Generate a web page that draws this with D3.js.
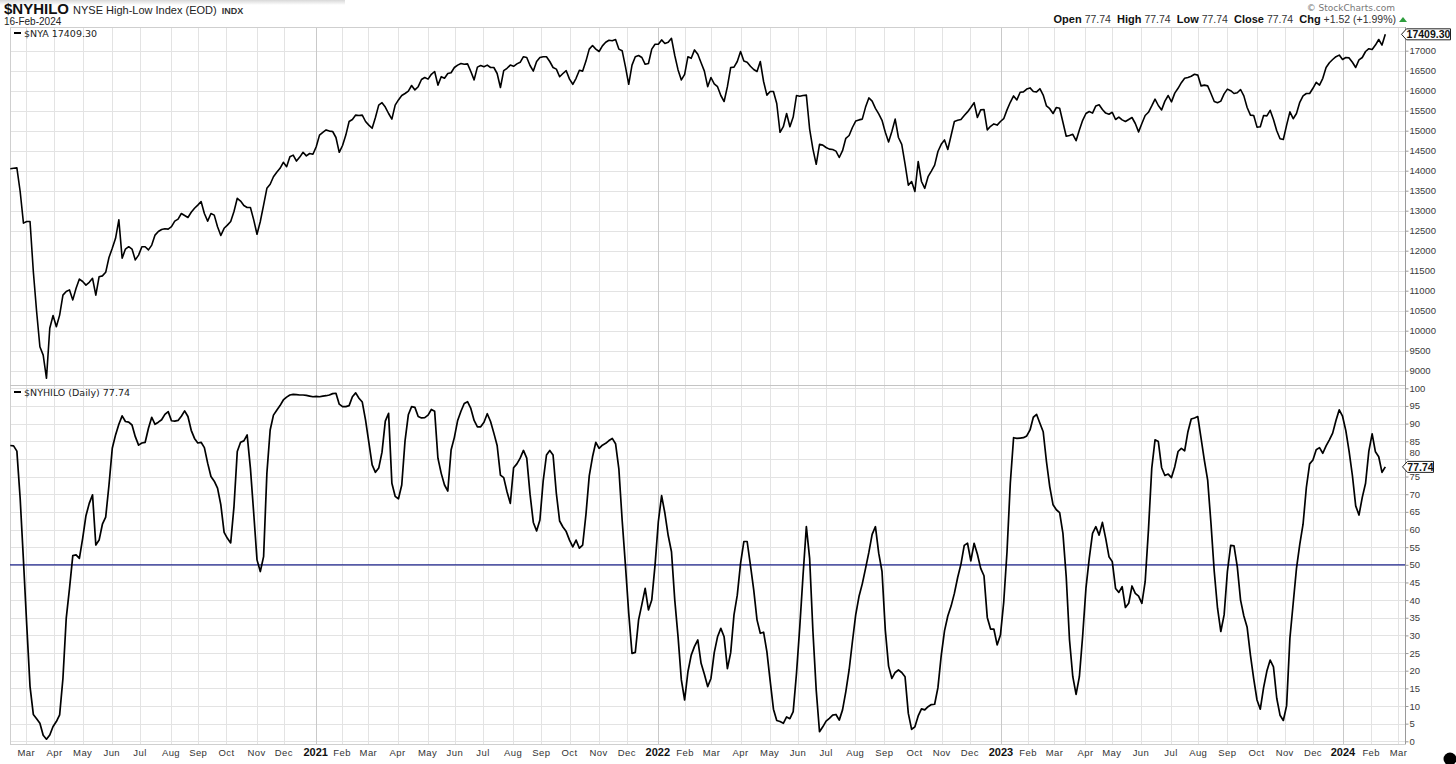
<!DOCTYPE html>
<html><head><meta charset="utf-8">
<script src="https://cdn.jsdelivr.net/npm/d3@7"></script>
<style>body{margin:0;background:#fff}svg{display:block}</style>
</head><body><svg id="c" width="1456" height="764"></svg>
<script>
// ---------------- data ----------------
const startDate = "2020-02-14";   // first sample
const endDate = "2024-02-16";     // last sample
const sampleStepHours = 84;       // samples every 3.5 days

const nyaValues = [
14050,14060,14070,13480,12690,12730,12730,11480,10480,9600,
9390,8810,10060,10380,10100,10390,10890,10980,11020,10770,
11060,11290,11230,11140,11210,11310,10890,11350,11370,11460,
11830,12060,12310,12770,11810,12040,12100,12040,11770,11890,
12100,12100,12020,12140,12390,12480,12530,12550,12540,12600,
12740,12790,12930,12880,12830,12960,13060,13140,13230,12930,
12740,12930,12890,12600,12380,12560,12640,12730,12980,13310,
13240,13130,13080,13080,12770,12410,12730,13140,13560,13660,
13850,13960,14060,14210,14100,14350,14390,14240,14340,14460,
14370,14430,14410,14600,14890,14960,15020,14990,14980,14830,
14460,14630,14890,15230,15280,15390,15380,15390,15230,15140,
15060,15330,15640,15700,15590,15430,15290,15640,15770,15880,
15930,15990,16130,16020,16100,16280,16330,16290,16410,16480,
16140,16350,16310,16430,16450,16580,16640,16680,16660,16670,
16480,16270,16590,16630,16600,16640,16580,16580,16430,16080,
16500,16560,16640,16610,16670,16710,16850,16830,16630,16490,
16730,16830,16850,16850,16730,16580,16540,16350,16430,16500,
16290,16160,16310,16510,16490,16740,17040,17130,17040,16980,
17120,17210,17260,17250,17280,17040,17000,16600,16160,16640,
16850,16880,16830,16660,16680,17040,17160,17160,17270,17180,
17210,17310,16880,16520,16270,16410,16850,16810,17020,16910,
16700,
16490,16100,16330,16170,16100,15880,15730,16100,16580,
16590,16730,16980,16740,16710,16610,16530,16480,16730,16230,
15890,15980,15980,15680,14960,15100,15430,15100,15340,15880,
15860,15880,15890,15040,14540,14160,14660,14640,14580,14540,
14530,14490,14330,14500,14810,14880,15080,15240,15270,15290,
15590,15820,15740,15560,15420,15260,14960,14720,14980,15290,
14830,14660,14170,13640,13730,13480,14230,13730,13560,13850,
13990,14140,14480,14660,14770,14530,14880,15230,15260,15280,
15380,15470,15580,15700,15330,15520,15530,15020,15110,15170,
15140,15230,15300,15520,15710,15870,15770,15960,15970,16040,
16070,15980,15970,16050,15890,15620,15550,15430,15580,15560,
15210,14860,14880,14910,14750,15020,15260,15430,15480,15440,
15620,15650,15530,15440,15410,15460,15280,15340,15270,15230,
15280,15330,15180,14970,15180,15380,15460,15620,15790,15630,
15520,15740,15880,15720,15940,16060,16200,16310,16330,16360,
16410,16390,16120,16140,16120,15930,15730,15700,15740,15920,
16040,16000,15930,15950,16030,15870,15580,15390,15380,15090,
15100,15380,15370,15510,15280,15000,14800,14780,15140,15470,
15300,15430,15710,15870,15930,15930,16060,16210,16140,16310,
16580,16700,16780,16850,16890,16780,16830,16820,16710,16580,
16770,16830,16980,17050,17030,17140,17280,17140,17409.30
];

const hiloValues = [
83.8,83.7,82.2,68.8,51.2,32.9,15.5,7.6,6.4,5.1,
1.7,0.6,1.8,4.2,5.6,7.5,17.8,34.8,43.3,52.6,
52.8,51.8,57.5,63.9,67.4,69.8,55.6,57.0,61.5,63.5,
72.6,83.0,86.8,89.8,92.2,90.6,90.4,89.6,86.3,83.9,
84.5,84.7,88.7,91.8,89.8,90.4,91.1,92.6,93.4,90.8,
90.7,90.9,92.1,93.6,92.0,88.1,85.8,84.5,84.7,83.2,
78.8,75.0,73.7,71.7,67.0,59.2,57.5,56.2,66.5,82.1,
84.7,85.1,86.8,77.3,64.6,51.4,48.1,52.3,75.9,88.2,
92.4,93.8,95.1,96.7,97.5,98.1,98.3,98.2,98.1,98.1,
98.0,97.8,97.6,97.7,97.6,97.8,97.9,98.1,98.5,98.6,
95.5,94.8,94.8,95.1,97.6,98.7,97.2,96.1,91.0,84.7,
78.3,76.2,77.4,81.9,90.7,92.9,73.1,69.4,68.7,72.6,
85.1,92.5,94.8,94.6,92.0,91.6,91.7,92.4,94.0,93.5,
80.2,75.9,72.6,70.9,82.5,86.1,90.9,93.5,95.7,96.2,
94.3,90.9,89.1,89.1,90.4,92.8,90.6,87.3,83.8,75.4,
74.7,70.7,67.4,77.5,78.6,80.2,82.4,80.2,70.0,62.0,
59.6,62.7,73.8,81.1,82.4,81.1,70.2,62.4,60.7,59.4,
57.0,55.1,57.0,54.7,55.6,64.3,75.2,80.6,84.7,83.0,
83.9,84.4,85.2,85.8,84.3,77.2,62.7,49.9,36.3,24.9,
25.2,34.4,38.8,43.3,37.2,40.0,49.9,62.2,69.6,64.6,
58.3,53.7,40.0,29.6,17.4,11.7,19.7,24.4,26.9,28.7,
22.1,
19.0,15.5,17.8,25.1,29.6,32.0,29.6,20.6,25.1,
35.8,41.4,50.4,56.6,56.6,49.9,42.9,34.4,30.6,30.9,
25.4,17.1,9.1,5.9,5.6,5.1,6.9,6.4,8.4,19.2,
32.4,47.1,60.8,51.8,31.1,14.5,2.7,4.1,5.7,6.5,
7.4,7.6,6.0,8.9,14.1,20.2,28.2,35.8,41.0,44.6,
49.0,53.5,58.6,60.8,53.3,48.1,31.5,21.3,17.8,19.5,
20.2,19.5,18.3,7.9,3.4,4.1,7.2,9.2,8.9,9.8,
10.4,10.5,15.2,24.3,31.3,35.5,38.3,41.9,46.4,50.2,
55.5,56.1,51.1,56.1,53.0,49.0,46.9,35.1,31.8,31.8,
27.3,30.1,39.4,53.7,73.1,86.0,85.8,85.9,86.0,86.5,
88.2,91.8,92.6,90.1,87.7,79.2,72.1,67.0,65.6,64.8,
58.9,46.6,28.7,18.3,13.3,18.3,29.9,43.4,51.8,58.9,
60.8,58.4,62.0,57.5,52.3,50.9,43.3,42.2,43.8,37.9,
39.1,44.0,41.9,41.1,39.1,45.2,59.9,77.3,85.4,84.9,
77.5,75.3,75.7,74.7,77.8,82.1,83.0,82.3,87.7,91.3,
91.6,92.0,85.8,79.6,74.0,61.8,48.1,37.7,31.1,35.8,
48.1,55.5,55.4,49.5,40.0,35.5,32.3,24.4,17.7,11.7,
9.1,15.2,19.9,23.0,21.1,12.2,7.4,5.9,10.1,29.2,
39.1,49.0,55.8,61.5,71.9,78.6,79.7,82.6,83.2,81.6,
83.7,85.4,87.3,90.9,93.9,92.1,88.0,82.1,75.3,66.7,
64.1,69.1,73.1,82.2,87.1,82.0,80.6,76.2,77.74
];

const nyaTickValues = [9000,9500,10000,10500,11000,11500,12000,12500,13000,13500,14000,14500,15000,15500,16000,16500,17000];
const hiloTickValues = [0,5,10,15,20,25,30,35,40,45,50,55,60,65,70,75,80,85,90,95,100];
const hiloReference = 50;
const axisMonthsStart = "2020-03-01";
const axisMonthsEnd = "2024-03-02";

const headerSymbol = "$NYHILO";
const headerName = "NYSE High-Low Index (EOD)";
const headerType = "INDX";
const headerDate = "16-Feb-2024";
const quote = [["Open","77.74"],["High","77.74"],["Low","77.74"],["Close","77.74"],["Chg","+1.52 (+1.99%)"]];
const nyaLegend = "$NYA 17409.30";
const hiloLegend = "$NYHILO (Daily) 77.74";

// ---------------- build ----------------
const parse = d3.timeParse("%Y-%m-%d");
const t0 = parse(startDate), t1 = parse(endDate);
const nyaData = nyaValues.map((v,i)=>({d: d3.timeHour.offset(t0, i*sampleStepHours), v}));
nyaData[nyaData.length-1].d = t1;
const hiloData = hiloValues.map((v,i)=>({d: d3.timeHour.offset(t0, i*sampleStepHours), v}));
hiloData[hiloData.length-1].d = t1;

const svg = d3.select("#c");
const plotL = 10, plotR = 1405;
const top1 = 27, bot1 = 385, top2 = 385, bot2 = 744;

const x = d3.scaleTime().domain([t0, t1]).range([10.3, 1385.3]);
const y1 = d3.scaleLinear().domain([9000, 17000]).range([370.7, 50.7]);
const y2 = d3.scaleLinear().domain([0, 100]).range([741.3, 388.3]);

const FONT = "'Liberation Sans', Arial, sans-serif";

// faint page shadow at top-left (as in reference screenshot)
const defs = svg.append("defs");
const gr = defs.append("linearGradient").attr("id", "shadeV").attr("x1", 0).attr("y1", 0).attr("x2", 0).attr("y2", 1);
gr.append("stop").attr("offset", "0%").attr("stop-color", "#d8d8d8");
gr.append("stop").attr("offset", "100%").attr("stop-color", "#ffffff");
svg.append("rect").attr("x", 0).attr("y", 0).attr("width", 345).attr("height", 5).attr("fill", "url(#shadeV)");

// month ticks at first trading day
const months = d3.timeMonth.range(parse(axisMonthsStart), parse(axisMonthsEnd));
const monthTicks = months.map(m => {
  let d = new Date(m);
  if (d.getMonth() === 0) d.setDate(2);
  while (d.getDay() === 0 || d.getDay() === 6) d.setDate(d.getDate()+1);
  if (d.getMonth() === 0 && d.getDate() === 2 && d.getDay() === 1) d.setDate(3);
  return {d, jan: d.getMonth() === 0};
});

// grid
const grid = svg.append("g");
[[top1, bot1, y1, nyaTickValues], [top2, bot2, y2, hiloTickValues]].forEach(([tp, bt, ys, tv]) => {
  grid.selectAll(null).data(tv).enter().append("line")
    .attr("x1", plotL).attr("x2", plotR)
    .attr("y1", d => Math.round(ys(d)) + 0.5).attr("y2", d => Math.round(ys(d)) + 0.5)
    .attr("stroke", "#e3e3e3").attr("stroke-width", 1);
  grid.selectAll(null).data(monthTicks).enter().append("line")
    .attr("x1", d => Math.round(x(d.d)) + 0.5).attr("x2", d => Math.round(x(d.d)) + 0.5)
    .attr("y1", tp).attr("y2", bt)
    .attr("stroke", d => d.jan ? "#c9c9c9" : "#e3e3e3").attr("stroke-width", 1);
});

// frames
svg.append("rect").attr("x", plotL+0.5).attr("y", top1+0.5).attr("width", plotR-plotL).attr("height", bot2-top1)
  .attr("fill", "none").attr("stroke", "#cfcfcf");
svg.append("line").attr("x1", plotL).attr("x2", plotR).attr("y1", bot1+0.5).attr("y2", bot1+0.5).attr("stroke", "#c4c4c4");
svg.append("line").attr("x1", plotR+0.5).attr("x2", plotR+0.5).attr("y1", top1).attr("y2", bot2).attr("stroke", "#9a9a9a");

// right axes
const ax1 = d3.axisRight(y1).tickValues(nyaTickValues).tickSize(3).tickFormat(d3.format("d"));
const ax2 = d3.axisRight(y2).tickValues(hiloTickValues).tickSize(3).tickFormat(d3.format("d"));
[ax1, ax2].forEach((a, k) => {
  const g = svg.append("g").attr("transform", `translate(${plotR+0.5},0)`).call(a);
  g.select(".domain").remove();
  g.selectAll(".tick line").attr("stroke", "#9a9a9a");
  g.selectAll(".tick text").attr("x", 4).attr("fill", "#3a3a3a")
    .style("font-family", FONT).style("font-size", "9.5px");
  // the label sitting just above the last-value callout is nudged up (as in the reference)
  if (k === 1) {
    const last = hiloValues[hiloValues.length-1];
    g.selectAll(".tick text").filter(d => d > last && d - last < 5).attr("dy", "-0.05em").attr("y", -3);
  }
});

// reference line at 50
svg.append("line").attr("x1", plotL).attr("x2", plotR)
  .attr("y1", y2(hiloReference)).attr("y2", y2(hiloReference))
  .attr("stroke", "#1e258c").attr("stroke-width", 1.2);

// series lines
svg.append("path").datum(nyaData)
  .attr("d", d3.line().x(d => x(d.d)).y(d => y1(d.v)))
  .attr("fill", "none").attr("stroke", "#000").attr("stroke-width", 1.6).attr("stroke-linejoin", "round");
svg.append("path").datum(hiloData)
  .attr("d", d3.line().x(d => x(d.d)).y(d => y2(d.v)))
  .attr("fill", "none").attr("stroke", "#000").attr("stroke-width", 1.7).attr("stroke-linejoin", "round");

// x axis labels
const fmtMonth = d3.timeFormat("%b"), fmtYear = d3.timeFormat("%Y");
svg.append("g").selectAll("text").data(monthTicks).enter().append("text")
  .attr("x", d => x(d.d)).attr("y", 756)
  .attr("text-anchor", "middle")
  .style("font-family", FONT)
  .style("font-size", d => d.jan ? "11px" : "9.5px")
  .style("font-weight", d => d.jan ? "bold" : "normal")
  .style("letter-spacing", d => d.jan ? "0px" : "0.4px")
  .attr("fill", d => d.jan ? "#111" : "#333")
  .text(d => d.jan ? fmtYear(d.d) : fmtMonth(d.d));

// legends inside panels
const LFONT = "'DejaVu Sans', Verdana, sans-serif";
[[nyaLegend, 33], [hiloLegend, 392]].forEach(([t, yy]) => {
  svg.append("line").attr("x1", 14).attr("x2", 21).attr("y1", yy).attr("y2", yy).attr("stroke", "#000").attr("stroke-width", 2);
  svg.append("text").attr("x", 24).attr("y", yy + 3.5).style("font-family", LFONT).style("font-size", "9.5px")
    .attr("fill", "#222").text(t);
});

// header
const h = svg.append("text").attr("x", 4).attr("y", 14).style("font-family", FONT).attr("fill", "#111");
h.append("tspan").style("font-size", "15px").style("font-weight", "bold").text(headerSymbol);
h.append("tspan").attr("dx", 4).style("font-size", "11px").attr("fill", "#222").text(headerName);
h.append("tspan").attr("dx", 5).style("font-size", "9px").style("font-weight", "bold").attr("fill", "#333").text(headerType);
svg.append("text").attr("x", 4).attr("y", 25).style("font-family", FONT).style("font-size", "10px")
  .attr("fill", "#222").text(headerDate);

svg.append("text").attr("x", 1395).attr("y", 11).attr("text-anchor", "end")
  .style("font-family", "'DejaVu Sans', sans-serif").style("font-size", "9px").attr("fill", "#777")
  .text("\u00A9 StockCharts.com");

const q = svg.append("text").attr("x", 1396).attr("y", 23).attr("text-anchor", "end")
  .style("font-family", FONT).style("font-size", "11px").attr("fill", "#111");
quote.forEach(([k, v], i) => {
  q.append("tspan").attr("dx", i ? 6 : 0).style("font-weight", "bold").text(k);
  q.append("tspan").attr("dx", 3).style("font-size", "10.5px").attr("fill", "#333").text(v);
});
svg.append("path").attr("d", "M1399,22 L1403,17 L1407,22 Z").attr("fill", "#2e9e3e");

// price callouts
function callout(v, yScale, x0, w, label) {
  const cy = yScale(v), hh = 11;
  svg.append("path")
    .attr("d", `M${x0},${cy} L${x0+5},${cy-hh/2} L${x0+w},${cy-hh/2} L${x0+w},${cy+hh/2} L${x0+5},${cy+hh/2} Z`)
    .attr("fill", "#fff").attr("stroke", "#222").attr("stroke-width", 1);
  svg.append("text").attr("x", x0 + 5 + (w-5)/2).attr("y", cy + 3.8).attr("text-anchor", "middle")
    .style("font-family", FONT).style("font-size", "10.5px").style("font-weight", "bold")
    .attr("fill", "#111").text(label);
}
callout(nyaValues[nyaValues.length-1], y1, 1401.5, 49, d3.format(".2f")(nyaValues[nyaValues.length-1]));
callout(hiloValues[hiloValues.length-1], y2, 1402.5, 31, d3.format(".2f")(hiloValues[hiloValues.length-1]));

// corner dot (page artifact in reference)
svg.append("circle").attr("cx", 1450).attr("cy", 759).attr("r", 6.5).attr("fill", "#000");
</script></body></html>
